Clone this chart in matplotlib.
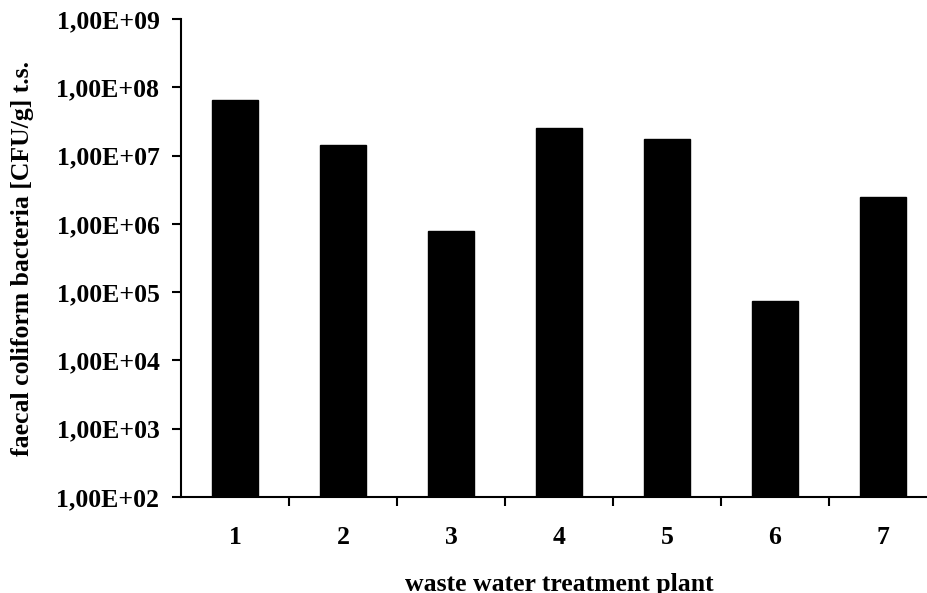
import numpy as np
import matplotlib
matplotlib.use("Agg")
import matplotlib.pyplot as plt
from matplotlib.ticker import FuncFormatter, NullLocator, FixedLocator

# Data
plants = ["1", "2", "3", "4", "5", "6", "7"]
fc_bacteria = [6.6e7, 1.42e7, 7.8e5, 2.55e7, 1.72e7, 7.5e4, 2.44e6]

plt.rcParams['font.family'] = ['Liberation Serif', 'DejaVu Serif']
plt.rcParams['font.weight'] = 'bold'
fs = 18.5

fig = plt.figure(figsize=(9.28, 5.93), dpi=100)
# axes deliberately extends a little past the right edge, like the reference
ax = fig.add_axes([181 / 928, 96 / 593, 756 / 928, 478 / 593])

x = np.arange(1, len(plants) + 1)
ax.bar(x, fc_bacteria, width=0.43, color='black', edgecolor='black', bottom=1e2)

ax.set_yscale('log')
ax.set_ylim(1e2, 1e9)
ax.set_xlim(0.5, len(plants) + 0.5)

ax.yaxis.set_major_locator(FixedLocator([10.0 ** k for k in range(2, 10)]))
ax.yaxis.set_minor_locator(NullLocator())
ax.yaxis.set_major_formatter(FuncFormatter(lambda v, p: "1,00E+%02d" % int(round(np.log10(v)))))

# ticks between categories, labels at category centres
ax.set_xticks(np.arange(1.5, len(plants) + 0.5, 1.0))
ax.set_xticklabels([])
ax.set_xticks(x, minor=True)
ax.set_xticklabels(plants, minor=True)
ax.tick_params(axis='x', which='minor', length=0, pad=21, labelsize=fs)
ax.tick_params(axis='x', which='major', direction='out', length=6.5, width=1.5)
ax.tick_params(axis='y', which='major', direction='out', length=6.5, width=1.5, labelsize=fs, pad=9)

for s in ['top', 'right']:
    ax.spines[s].set_visible(False)
for s in ['left', 'bottom']:
    ax.spines[s].set_linewidth(1.5)

ax.set_ylabel("faecal coliform bacteria [CFU/g] t.s.", fontsize=fs, fontweight='bold', labelpad=16)
ax.set_xlabel("waste water treatment plant", fontsize=fs, fontweight='bold', labelpad=17)

fig.savefig("out.png", dpi=100)
